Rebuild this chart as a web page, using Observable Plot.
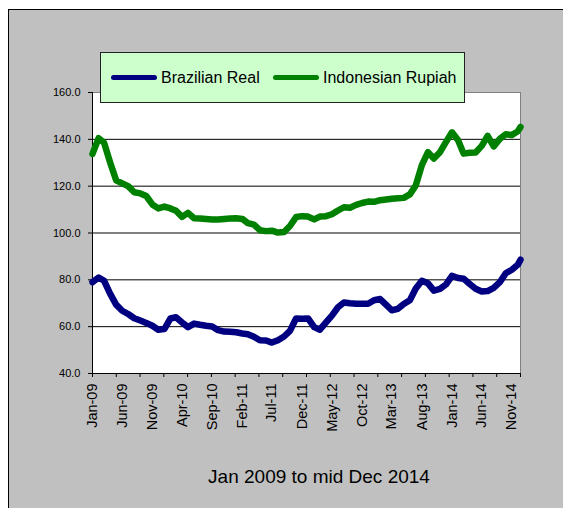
<!DOCTYPE html>
<html>
<head>
<meta charset="utf-8">
<script src="https://cdn.jsdelivr.net/npm/d3@7"></script>
<script src="https://cdn.jsdelivr.net/npm/@observablehq/plot@0.6"></script>
<style>
html, body { margin: 0; padding: 0; background: #fff; }
#wrap { position: relative; width: 563px; height: 508px; overflow: hidden; font-family: Arial, "Liberation Sans", sans-serif; }
#panel { position: absolute; left: 8px; top: 9px; right: 0; bottom: 0; background: #c0c0c0; border-left: 1px solid #000; border-top: 1px solid #000; }
#chart { position: absolute; left: 0; top: 0; }
#legend { position: absolute; left: 100px; top: 52px; width: 363px; height: 49px; background: #ccffcc; border: 1px solid #222; font-size: 16px; color: #000; }
.item { position: absolute; top: 0; height: 49px; display: flex; align-items: center; white-space: nowrap; }
.sw { display: inline-block; width: 46px; height: 5px; border-radius: 3px; margin-right: 4px; }
#caption { position: absolute; left: 119px; width: 400px; top: 467px; line-height: 19px; font-size: 19px; text-align: center; color: #000; white-space: nowrap; }
</style>
</head>
<body>
<div id="wrap">
  <div id="panel"></div>
  <div id="chart"></div>
  <div id="legend"></div>
  <div id="caption"></div>
</div>
<script>
// ---- Data ----
const seriesNames = ["Brazilian Real", "Indonesian Rupiah"];
const seriesColors = ["#000080", "#008000"];
const captionText = "Jan 2009 to mid Dec 2014";

const dates = [
  "2009-01-01","2009-02-01","2009-03-01","2009-04-01","2009-05-01","2009-06-01","2009-07-01","2009-08-01","2009-09-01","2009-10-01","2009-11-01","2009-12-01",
  "2010-01-01","2010-02-01","2010-03-01","2010-04-01","2010-05-01","2010-06-01","2010-07-01","2010-08-01","2010-09-01","2010-10-01","2010-11-01","2010-12-01",
  "2011-01-01","2011-02-01","2011-03-01","2011-04-01","2011-05-01","2011-06-01","2011-07-01","2011-08-01","2011-09-01","2011-10-01","2011-11-01","2011-12-01",
  "2012-01-01","2012-02-01","2012-03-01","2012-04-01","2012-05-01","2012-06-01","2012-07-01","2012-08-01","2012-09-01","2012-10-01","2012-11-01","2012-12-01",
  "2013-01-01","2013-02-01","2013-03-01","2013-04-01","2013-05-01","2013-06-01","2013-07-01","2013-08-01","2013-09-01","2013-10-01","2013-11-01","2013-12-01",
  "2014-01-01","2014-02-01","2014-03-01","2014-04-01","2014-05-01","2014-06-01","2014-07-01","2014-08-01","2014-09-01","2014-10-01","2014-11-01","2014-12-01",
  "2014-12-15"
];

const brazilianReal = [
  79.0, 81.0, 79.6, 74.0, 69.4, 66.8, 65.4, 63.6, 62.6, 61.6, 60.4, 58.7,
  59.0, 63.5, 64.0, 61.8, 59.8, 61.3, 60.8, 60.4, 60.1, 58.5, 57.9, 57.8,
  57.6, 57.1, 56.8, 55.7, 54.2, 54.1, 53.2, 54.2, 55.8, 58.2, 63.5, 63.4,
  63.5, 59.8, 58.7, 61.8, 64.7, 68.3, 70.3, 70.0, 69.8, 69.8, 69.8, 71.3,
  71.8, 69.3, 67.0, 67.6, 69.7, 71.3, 76.3, 79.6, 78.5, 75.4, 76.1, 78.0,
  81.7, 80.8, 80.5, 78.2, 76.2, 75.0, 75.2, 76.6, 79.0, 82.8, 84.3, 86.4,
  88.6
];

const indonesianRupiah = [
  133.8, 140.5, 138.5, 130.0, 122.5, 121.2, 120.0, 117.4, 116.9, 115.8, 112.2, 110.5,
  111.3, 110.5, 109.5, 106.9, 108.6, 106.3, 106.2, 106.0, 105.8, 105.8, 106.0, 106.2,
  106.3, 106.0, 104.2, 103.6, 101.2, 100.8, 101.0, 100.2, 100.4, 103.0, 106.8, 107.2,
  107.0, 105.8, 107.0, 107.2, 108.0, 109.6, 111.0, 110.8, 112.0, 112.8, 113.4, 113.3,
  114.0, 114.3, 114.6, 114.8, 115.0, 116.5, 120.3, 129.0, 134.5, 131.8, 134.5, 138.8,
  143.0, 139.6, 133.9, 134.3, 134.4, 137.2, 141.5, 137.0, 140.2, 142.2, 141.8, 143.4,
  145.3
];

const xTickLabels = ["Jan-09","Jun-09","Nov-09","Apr-10","Sep-10","Feb-11","Jul-11","Dec-11","May-12","Oct-12","Mar-13","Aug-13","Jan-14","Jun-14","Nov-14"];
const yTicks = [40, 60, 80, 100, 120, 140, 160];
const xTickMarkCount = 18;

// ---- Build ----
const parseDate = d3.utcParse("%Y-%m-%d");
const parseLabel = d3.utcParse("%b-%y");
const dateObjs = dates.map(parseDate);
const x0 = dateObjs[0], x1 = dateObjs[dateObjs.length - 1];
const labelDates = xTickLabels.map(parseLabel);
const tickDates = d3.range(xTickMarkCount + 1).map(i => new Date(+x0 + i * (x1 - x0) / xTickMarkCount));

const rows = [];
[brazilianReal, indonesianRupiah].forEach((vals, s) => {
  vals.forEach((v, i) => rows.push({series: seriesNames[s], date: dateObjs[i], value: v}));
});

const chart = Plot.plot({
  width: 563,
  height: 508,
  marginLeft: 92,
  marginRight: 43,
  marginTop: 92,
  marginBottom: 135,
  style: {background: "transparent", fontFamily: "Arial, 'Liberation Sans', sans-serif", color: "#000", overflow: "visible"},
  x: {type: "utc", domain: [x0, x1]},
  y: {domain: [40, 160]},
  color: {domain: seriesNames, range: seriesColors},
  marks: [
    Plot.frame({fill: "white", stroke: "#808080"}),
    Plot.gridY(yTicks.slice(1, -1), {stroke: "#000", strokeOpacity: 1}),
    Plot.ruleX([x0], {stroke: "#000"}),
    Plot.ruleY([40], {stroke: "#000"}),
    Plot.axisY(yTicks, {tickFormat: d => d.toFixed(1), tickSize: 4, tickPadding: 8, fontSize: 11, label: null}),
    Plot.axisX(tickDates, {tickFormat: () => "", tickSize: 4, label: null}),
    Plot.axisX(labelDates, {tickFormat: d3.utcFormat("%b-%y"), tickSize: 0, tickPadding: 10, tickRotate: -90, fontSize: 14.5, label: null}),
    Plot.line(rows, {x: "date", y: "value", z: "series", stroke: "series", strokeWidth: 6.5, strokeLinejoin: "round", strokeLinecap: "round"})
  ]
});
document.getElementById("chart").appendChild(chart);

// Legend
const legend = document.getElementById("legend");
const itemLeft = [10, 172];
seriesNames.forEach((name, i) => {
  const item = document.createElement("div");
  item.className = "item";
  item.style.left = itemLeft[i] + "px";
  const sw = document.createElement("span");
  sw.className = "sw";
  sw.style.background = seriesColors[i];
  const t = document.createElement("span");
  t.textContent = name;
  item.appendChild(sw);
  item.appendChild(t);
  legend.appendChild(item);
});

document.getElementById("caption").textContent = captionText;
</script>
</body>
</html>
